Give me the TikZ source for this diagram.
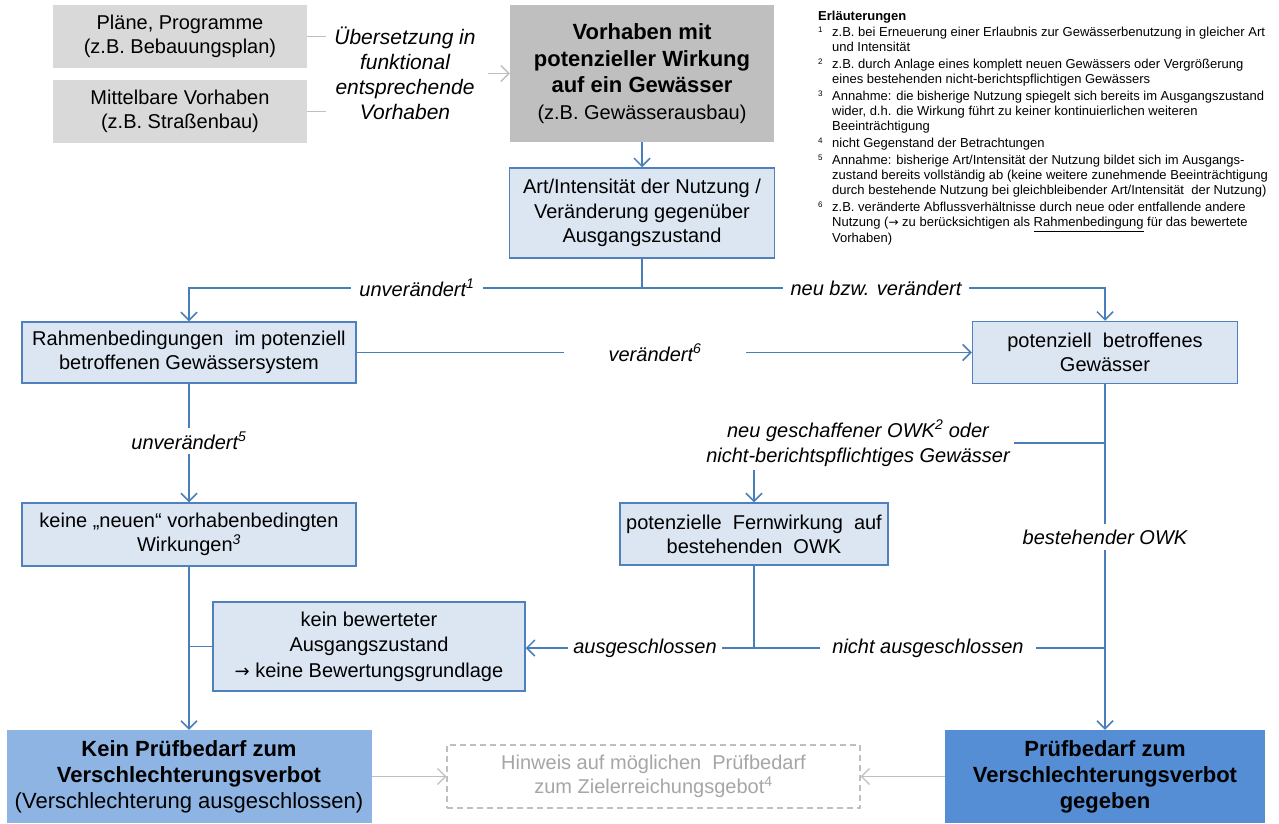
\documentclass[tikz,border=0pt]{standalone}
\usepackage{fontspec}
\setmainfont{Liberation Sans}
\newfontfamily\arrowfont{DejaVu Sans}
\usetikzlibrary{arrows.meta}
\definecolor{lineblue}{HTML}{4A7EBB}
\definecolor{boxborder}{HTML}{4F81BD}
\definecolor{boxfill}{HTML}{DCE6F2}
\definecolor{grayA}{HTML}{D9D9D9}
\definecolor{grayB}{HTML}{BFBFBF}
\definecolor{grayline}{HTML}{BFBFBF}
\definecolor{graytext}{HTML}{A6A6A6}
\definecolor{kpfill}{HTML}{8EB4E3}
\definecolor{pbfill}{HTML}{558ED5}
\newcommand\notenum[1]{\makebox[14pt][l]{\raisebox{3.5pt}{\fontsize{8}{8}\selectfont #1}}}
\newcommand\noteind{\hspace*{14pt}}
\tikzset{
  fs/.style={font=\fontsize{20}{24}\selectfont},
  bluebox/.style={draw=boxborder, line width=1.5pt, fill=boxfill, align=center, inner sep=0pt, fs},
  graybox/.style={fill=grayA, align=center, inner sep=0pt, fs},
  conn/.style={draw=lineblue, line width=1.5pt},
  arr/.style={conn, -{Straight Barb[length=8pt,width=16pt]}},
  grayconn/.style={draw=grayline, line width=1.3pt},
  grayarr/.style={grayconn, -{Straight Barb[length=8pt,width=16pt]}},
  lbl/.style={fill=white, font=\fontsize{20}{24}\selectfont\itshape, inner xsep=8pt, inner ysep=4pt, align=center}
}
\begin{document}
\begin{tikzpicture}[x=1pt,y=-1pt]
\useasboundingbox[fill=white] (0,0) rectangle (1279,823);

% top gray boxes
\node[graybox, minimum width=254pt, minimum height=63pt] (pl) at (180,36.5) {Pläne, Programme\\(z.B. Bebauungsplan)};
\node[graybox, minimum width=254pt, minimum height=63pt] (mv) at (180,111.5) {Mittelbare Vorhaben\\(z.B. Straßenbau)};
\node[inner sep=0pt, align=center, font=\fontsize{21}{25}\selectfont\itshape] (ueb) at (405,73) {Übersetzung in\\funktional\\entsprechende\\Vorhaben};
\node[fill=grayB, minimum width=264pt, minimum height=137pt, align=center, inner sep=0pt, font=\fontsize{22}{26.5}\selectfont\bfseries] (vh) at (642,73.5)
  {Vorhaben mit\\potenzieller Wirkung\\auf ein Gewässer\\{\fontsize{20}{26.5}\selectfont\mdseries (z.B. Gewässerausbau)}};

\draw[grayconn] (pl.east) -- ([xshift=-8pt]ueb.west |- pl.east);
\draw[grayconn] (mv.east) -- ([xshift=-8pt]ueb.west |- mv.east);
\draw[grayarr] ([xshift=12pt]ueb.east |- vh.west) -- (vh.west);

% blue boxes
\node[bluebox, minimum width=265pt, minimum height=90pt, font=\fontsize{20}{24.5}\selectfont] (art) at (642,213) {Art/Intensität der Nutzung /\\Veränderung gegenüber\\Ausgangszustand};
\node[bluebox, minimum width=334pt, minimum height=61pt] (rb) at (189,352.5) {Rahmenbedingungen\ \ im potenziell\\betroffenen Gewässersystem};
\node[bluebox, minimum width=265pt, minimum height=62pt] (pg) at (1105,352.5) {potenziell\ \ betroffenes\\Gewässer};
\node[bluebox, minimum width=334pt, minimum height=63pt] (kn) at (189,534.5) {keine „neuen“ vorhabenbedingten\\Wirkungen\textsuperscript{\itshape 3}};
\node[bluebox, minimum width=268pt, minimum height=62pt] (fw) at (754,534) {potenzielle\ \ Fernwirkung\ \ auf\\bestehenden\ \ OWK};
\node[bluebox, minimum width=312pt, minimum height=89pt, font=\fontsize{20}{25.5}\selectfont] (kb) at (369,646.5) {kein bewerteter\\Ausgangszustand\\{\arrowfont\fontsize{18}{25.5}\selectfont →} keine Bewertungsgrundlage};

% bottom boxes
\node[fill=kpfill, minimum width=365pt, minimum height=93pt, align=center, inner sep=0pt, font=\fontsize{22}{26}\selectfont\bfseries] (kp) at (189,776.5)
  {Kein Prüfbedarf zum\\Verschlechterungsverbot\\{\mdseries (Verschlechterung ausgeschlossen)}};
\node[draw=grayB, line width=1.2pt, dash pattern=on 6pt off 4pt, text=graytext, minimum width=413pt, minimum height=63pt, align=center, inner sep=0pt, fs] (hw) at (653.5,776.5)
  {Hinweis auf möglichen\ \ Prüfbedarf\\zum Zielerreichungsgebot\textsuperscript{4}};
\node[fill=pbfill, minimum width=320pt, minimum height=93pt, align=center, inner sep=0pt, font=\fontsize{22}{26}\selectfont\bfseries] (pb) at (1105,776.5)
  {Prüfbedarf zum\\Verschlechterungsverbot\\gegeben};

% connectors
\draw[arr] (vh.south) -- (art.north);
\coordinate (j1) at (art.south |- 0,288);
\draw[conn] (art.south) -- (j1);
\draw[arr] (j1) -| (rb.north);
\draw[arr] (j1) -| (pg.north);
\node[lbl] (l1) at (417,288) {unverändert\textsuperscript{1}};
\node[lbl] (l2) at (876,288) {neu bzw. verändert};

\draw[arr] (rb.east) -- (pg.west);
\node[lbl, inner xsep=45pt] (l3) at (655,352.5) {verändert\textsuperscript{6}};

\draw[arr] (rb.south) -- (kn.north);
\node[lbl] (l4) at (189,441) {unverändert\textsuperscript{5}};

\draw[arr] (pg.south) -- (pb.north);
\node[lbl, inner ysep=6pt] (l5) at (1105,537) {bestehender OWK};

\node[inner sep=4pt, align=center, font=\fontsize{20}{25}\selectfont\itshape] (nso) at (858,443) {neu geschaffener OWK\textsuperscript{2} oder\\nicht-berichtspflichtiges Gewässer};
\draw[conn] (nso.east) -- (nso.east -| pg.south);
\draw[arr] (nso.south -| fw.north) -- (fw.north);

\coordinate (j3) at (fw.south |- 0,648);
\draw[conn] (fw.south) -- (j3) -- (j3 -| pg.south);
\draw[arr] (j3) -- (j3 -| kb.east);
\node[lbl, inner xsep=5pt] (l6) at (645,648) {ausgeschlossen};
\node[lbl, inner xsep=12pt] (l7) at (928,648) {nicht ausgeschlossen};

\draw[arr] (kn.south) -- (kp.north);
\draw[conn] (kb.west) -- (kb.west -| kn.south);

\draw[grayarr] (kp.east) -- (hw.west);
\draw[grayarr] (pb.west) -- (hw.east);

% notes
\node[anchor=north west, inner sep=0pt, align=left, font=\fontsize{13}{15.4}\selectfont] (notes) at (818,11) {%
\textbf{Erläuterungen}\\
\notenum{1}z.B. bei Erneuerung einer Erlaubnis zur Gewässerbenutzung in gleicher Art\\
\noteind und Intensität\\[1.2pt]
\notenum{2}z.B. durch Anlage eines komplett neuen Gewässers oder Vergrößerung\\
\noteind eines bestehenden nicht-berichtspflichtigen Gewässers\\[1.2pt]
\notenum{3}Annahme: die bisherige Nutzung spiegelt sich bereits im Ausgangszustand\\
\noteind wider, d.h. die Wirkung führt zu keiner kontinuierlichen weiteren\\
\noteind Beeinträchtigung\\[1.2pt]
\notenum{4}nicht Gegenstand der Betrachtungen\\[1.2pt]
\notenum{5}Annahme: bisherige Art/Intensität der Nutzung bildet sich im Ausgangs-\\
\noteind zustand bereits vollständig ab (keine weitere zunehmende Beeinträchtigung\\
\noteind durch bestehende Nutzung bei gleichbleibender Art/Intensität\ \ der Nutzung)\\[1.2pt]
\notenum{6}z.B. veränderte Abflussverhältnisse durch neue oder entfallende andere\\
\noteind Nutzung ({\arrowfont\fontsize{12}{15.4}\selectfont →} zu berücksichtigen als \underline{Rahmenbedingung} für das bewertete\\
\noteind Vorhaben)};
\end{tikzpicture}
\end{document}
